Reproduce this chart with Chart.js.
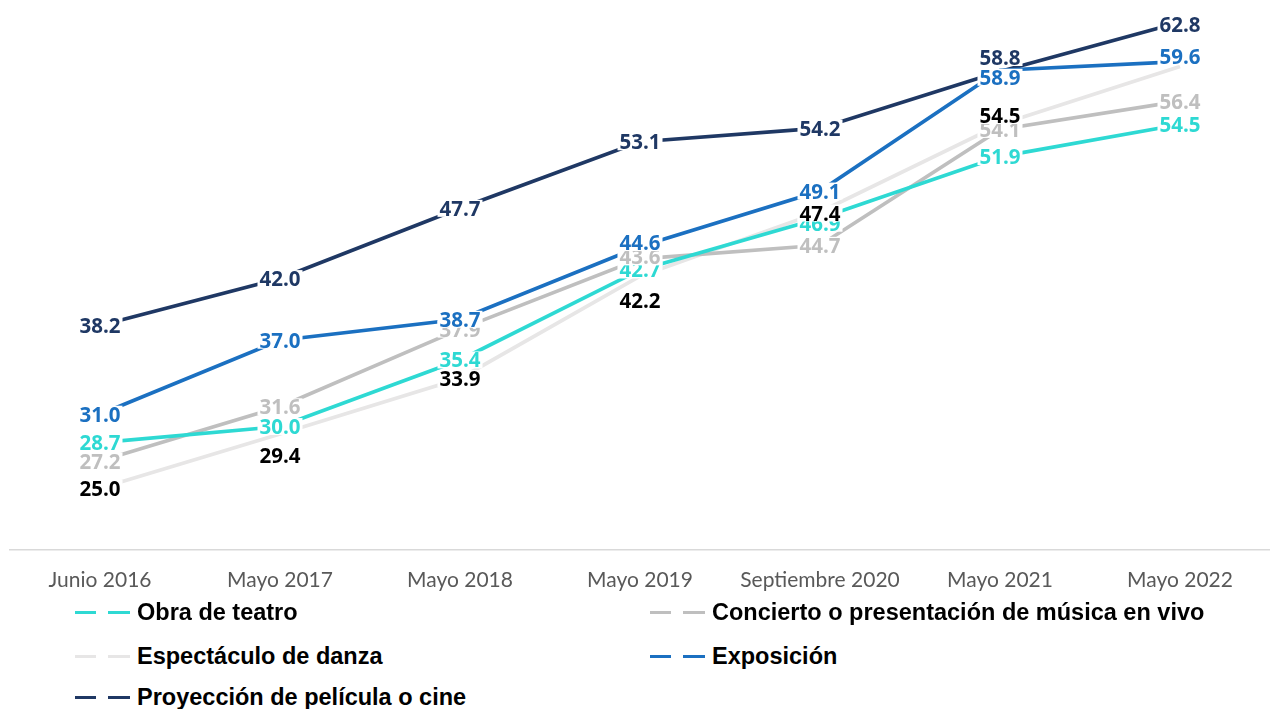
<!DOCTYPE html>
<html lang="es">
<head>
<meta charset="utf-8">
<script src="https://cdn.jsdelivr.net/npm/chart.js@4.4.0/dist/chart.umd.min.js"></script>
<style>
  body { margin: 0; background: #fff; width: 1270px; height: 709px; overflow: hidden; font-family: "Liberation Sans", Arial, sans-serif; }
  #wrap { position: absolute; left: 0; top: 0; width: 1270px; height: 620px; }
  .item { position: absolute; display: flex; align-items: center; height: 28px; font-weight: bold; font-size: 23.5px; color: #000; white-space: nowrap; }
  .sample { display: inline-block; width: 55px; height: 3px; margin-right: 7px; }
</style>
</head>
<body>
<div id="wrap"><canvas id="chart" width="1270" height="620"></canvas></div>
<div id="legend"></div>
<script>
// Categories (survey waves)
const categories = ['Junio 2016', 'Mayo 2017', 'Mayo 2018', 'Mayo 2019', 'Septiembre 2020', 'Mayo 2021', 'Mayo 2022'];

// Series values (%)
const teatro     = [28.7, 30.0, 35.4, 42.7, 46.9, 51.9, 54.5];
const concierto  = [27.2, 31.6, 37.9, 43.6, 44.7, 54.1, 56.4];
const danza      = [25.0, 29.4, 33.9, 42.2, 47.4, 54.5, 59.2];
const exposicion = [31.0, 37.0, 38.7, 44.6, 49.1, 58.9, 59.6];
const cine       = [38.2, 42.0, 47.7, 53.1, 54.2, 58.8, 62.8];

const seriesNames = [
  'Obra de teatro',
  'Concierto o presentación de música en vivo',
  'Espectáculo de danza',
  'Exposición',
  'Proyección de película o cine'
];

// styling per series: line colour, label colour
const lineColors  = ['#2ED9D3', '#BFBFBF', '#E7E6E6', '#1B70C1', '#1F3864'];
const labelColors = ['#2ED9D3', '#BFBFBF', '#000000', '#1B70C1', '#1F3864'];

// vertical nudges of the value labels (px), null = label not shown
const labelShift = [
  [0, 0, 0, 0, 5, 0, 0],
  [0, 0, 0, -2, 0, 0, 0],
  [0, 22, 0, 24, 1, -9, null],
  [0, 0, 0, -4, 0, 7, -5],
  [0, 0, 0, 0, 0, -14, 2]
];

const allSeries = [teatro, concierto, danza, exposicion, cine];

/**
 * Draw value labels on tight white boxes above all lines
 */
const valueLabels = {
  id: 'valueLabels',
  afterDatasetsDraw(chart) {
    const ctx = chart.ctx;
    ctx.save();
    ctx.font = 'bold 20.5px "Open Sans"';
    ctx.textAlign = 'center';
    ctx.textBaseline = 'alphabetic';
    chart.data.datasets.forEach((ds, i) => {
      const meta = chart.getDatasetMeta(i);
      meta.data.forEach((pt, j) => {
        const dy = labelShift[i][j];
        if (dy === null) return;
        const text = ds.data[j].toFixed(1);
        const m = ctx.measureText(text);
        const w = m.width;
        const asc = m.actualBoundingBoxAscent;
        const x = pt.x;
        const y = pt.y + dy;
        ctx.fillStyle = '#fff';
        ctx.fillRect(x - w / 2 - 2, y - asc / 2 - 1, w + 4, asc + 2);
        ctx.fillStyle = labelColors[i];
        ctx.fillText(text, x, y + asc / 2);
      });
    });
    ctx.restore();
  }
};

const chart = new Chart(document.getElementById('chart').getContext('2d'), {
  type: 'line',
  data: {
    labels: categories,
    datasets: allSeries.map((values, i) => ({
      label: seriesNames[i],
      data: values,
      borderColor: lineColors[i],
      backgroundColor: lineColors[i],
      borderWidth: 3.7,
      pointRadius: 0,
      tension: 0,
      clip: false
    }))
  },
  options: {
    responsive: false,
    animation: false,
    layout: { padding: { left: 10, right: 0, top: 0, bottom: 9 } },
    scales: {
      x: {
        offset: true,
        grid: { display: false, drawTicks: false },
        border: { display: true, color: '#D9D9D9', width: 1.5 },
        ticks: {
          color: '#595959',
          font: { family: 'Lato', size: 21 },
          padding: 18,
          maxRotation: 0,
          autoSkip: false
        }
      },
      y: { display: false, min: 20, max: 64.6 }
    },
    plugins: {
      legend: { display: false },
      tooltip: { enabled: false }
    }
  },
  plugins: [valueLabels]
});

// legend laid out in two columns like the original
const legendPos = [
  { x: 75, y: 612 },
  { x: 650, y: 612 },
  { x: 75, y: 656 },
  { x: 650, y: 656 },
  { x: 75, y: 697 }
];
const legend = document.getElementById('legend');
seriesNames.forEach((name, i) => {
  const c = lineColors[i];
  const item = document.createElement('div');
  item.className = 'item';
  item.style.left = legendPos[i].x + 'px';
  item.style.top = (legendPos[i].y - 14) + 'px';
  const sample = document.createElement('span');
  sample.className = 'sample';
  sample.style.background = `linear-gradient(to right, ${c} 0 21px, transparent 21px 33px, ${c} 33px 55px)`;
  item.appendChild(sample);
  item.appendChild(document.createTextNode(name));
  legend.appendChild(item);
});
</script>
</body>
</html>
